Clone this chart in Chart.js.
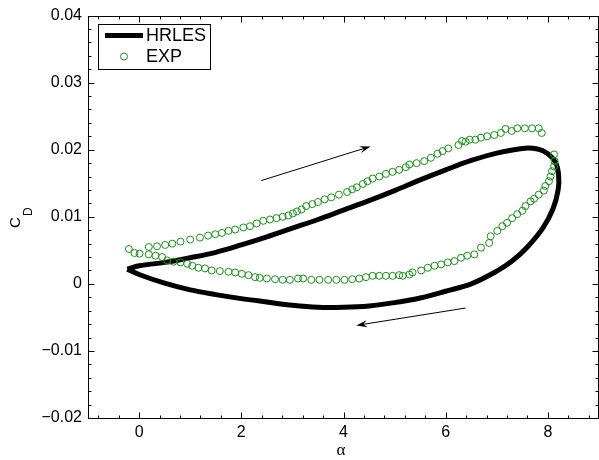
<!DOCTYPE html>
<html>
<head>
<meta charset="utf-8">
<script src="https://cdn.jsdelivr.net/npm/chart.js@4.4.1/dist/chart.umd.min.js"></script>
<style>
    html, body { margin:0; padding:0; background:#fff; overflow:hidden; }
</style>
</head>
<body>
<canvas id="chartCd" width="599" height="460"></canvas>
<script>
/**
 * CD - alpha hysteresis
 */
// axis
let xTicks = [0, 2, 4, 6, 8];
let yTicks = [-0.02, -0.01, 0, 0.01, 0.02, 0.03, 0.04];
let xMinorStep = 0.4;
let yMinorStep = 0.002;

// HRLES (closed loop)
let hrlesA  = [-0.23, 0, 0.5, 1, 1.5, 2, 2.5, 3, 3.5, 4, 4.5, 5, 5.5, 6, 6.5, 7, 7.5,
               7.8, 8.0, 8.15, 8.21, 8.2, 8.1, 7.9, 7.6, 7.3, 7.0, 6.5, 6.0, 5.5, 5.0,
               4.5, 4.0, 3.5, 3.0, 2.5, 2.0, 1.5, 1.0, 0.5, 0, -0.23];
let hrlesCd = [0.0022, 0.0027, 0.0032, 0.0039, 0.0047, 0.0058, 0.0070, 0.0083, 0.0096, 0.0110,
               0.0124, 0.0139, 0.0155, 0.0170, 0.0184, 0.0195, 0.0202,
               0.0201, 0.0194, 0.0181, 0.0162, 0.0140, 0.0112, 0.0083, 0.0055, 0.0034, 0.0019,
               0.0000, -0.0011, -0.0021, -0.0028, -0.0033, -0.0035, -0.0035, -0.0032, -0.0027, -0.0022,
               -0.0016, -0.0009, 0.0001, 0.0014, 0.0022];

// EXP upstroke
let expUpA  = [-0.20, 0.19, 0.35, 0.51, 0.65, 0.81, 1.00, 1.19, 1.35, 1.49, 1.62, 1.75, 1.88, 2.04,
               2.17, 2.30, 2.43, 2.56, 2.69, 2.81, 2.92, 3.01, 3.09, 3.18, 3.27, 3.39, 3.50, 3.63,
               3.76, 3.91, 4.07, 4.17, 4.26, 4.38, 4.47, 4.57, 4.70, 4.83, 4.96, 5.09, 5.22, 5.29,
               5.43, 5.58, 5.71, 5.84, 5.94, 6.05, 6.25, 6.32, 6.39, 6.47, 6.58, 6.69, 6.81, 6.95,
               7.08, 7.17, 7.29, 7.40, 7.55, 7.69, 7.82, 7.88];
let expUpCd = [0.0052, 0.0055, 0.0056, 0.0058, 0.0060, 0.0063, 0.0066, 0.0069, 0.0072, 0.0074, 0.0076, 0.0079, 0.0081, 0.0084,
               0.0086, 0.0090, 0.0094, 0.0096, 0.0098, 0.0100, 0.0102, 0.0105, 0.0108, 0.0111, 0.0116, 0.0119, 0.0122, 0.0126,
               0.0129, 0.0133, 0.0137, 0.0141, 0.0144, 0.0149, 0.0153, 0.0157, 0.0160, 0.0164, 0.0167, 0.0170, 0.0174, 0.0178,
               0.0180, 0.0183, 0.0188, 0.0194, 0.0198, 0.0202, 0.0207, 0.0213, 0.0212, 0.0215, 0.0215, 0.0218, 0.0220, 0.0222,
               0.0225, 0.0231, 0.0228, 0.0232, 0.0232, 0.0232, 0.0232, 0.0225];

// EXP downstroke
let expDnA  = [8.12, 8.13, 8.12, 8.08, 8.05, 8.02, 7.95, 7.92, 7.82, 7.73, 7.66, 7.56, 7.50, 7.40, 7.30,
               7.20, 7.11, 7.01, 6.88, 6.85, 6.69, 6.56, 6.42, 6.30, 6.17, 6.04, 5.91, 5.78, 5.65, 5.52,
               5.35, 5.29, 5.16, 5.09, 4.96, 4.83, 4.70, 4.57, 4.44, 4.31, 4.17, 4.02, 3.86, 3.70, 3.53,
               3.37, 3.21, 3.11, 2.95, 2.81, 2.66, 2.50, 2.36, 2.27, 2.14, 2.01, 1.88, 1.75, 1.58, 1.42,
               1.29, 1.16, 1.04, 0.94, 0.81, 0.67, 0.55, 0.45, 0.32, 0.19, 0.01, -0.09];
let expDnCd = [0.0193, 0.0183, 0.0175, 0.0168, 0.0160, 0.0153, 0.0146, 0.0139, 0.0133, 0.0127, 0.0123, 0.0116, 0.0109, 0.0104, 0.0098,
               0.0091, 0.0086, 0.0079, 0.0071, 0.0061, 0.0054, 0.0044, 0.0042, 0.0039, 0.0034, 0.0032, 0.0029, 0.0027, 0.0024, 0.0020,
               0.0017, 0.0014, 0.0012, 0.0013, 0.0012, 0.0012, 0.0012, 0.0012, 0.0010, 0.0008, 0.0007, 0.0006, 0.0006, 0.0006, 0.0006,
               0.0006, 0.0008, 0.0008, 0.0006, 0.0006, 0.0007, 0.0008, 0.0009, 0.0010, 0.0013, 0.0015, 0.0017, 0.0018, 0.0019, 0.0020,
               0.0023, 0.0024, 0.0027, 0.0030, 0.0032, 0.0033, 0.0035, 0.0040, 0.0042, 0.0044, 0.0045, 0.0046];

// direction arrows (data coords)
let arrowUp   = [[2.39, 0.0154], [4.53, 0.0205]];
let arrowDown = [[6.39, -0.0036], [4.25, -0.0062]];

let expColor = "rgb(30,140,30)";
let fontFam  = "'Liberation Sans', Arial, sans-serif";

function toXY(aArr, cArr){
    let out = [];
    for(let i=0; i<aArr.length; i++){
        out.push({x: aArr[i], y: cArr[i]});
    }
    return out;
};

function minusFmt(v){
    // 마이너스 기호
    let s = String(Math.round(v*1000)/1000);
    return s.replace("-", "\u2212");
};

function drawArrow(ctx, x1, y1, x2, y2){
    let ang = Math.atan2(y2-y1, x2-x1);
    let len = 11, wid = 3.5;
    ctx.beginPath();
    ctx.moveTo(x1, y1);
    ctx.lineTo(x2 - Math.cos(ang)*6, y2 - Math.sin(ang)*6);
    ctx.stroke();
    ctx.beginPath();
    ctx.moveTo(x2, y2);
    ctx.lineTo(x2 - Math.cos(ang)*len + Math.sin(ang)*wid, y2 - Math.sin(ang)*len - Math.cos(ang)*wid);
    ctx.lineTo(x2 - Math.cos(ang)*7, y2 - Math.sin(ang)*7);
    ctx.lineTo(x2 - Math.cos(ang)*len - Math.sin(ang)*wid, y2 - Math.sin(ang)*len + Math.cos(ang)*wid);
    ctx.closePath();
    ctx.fill();
};

// frame, inward ticks, arrows, legend, axis titles
const framePlugin = {
    id : "framePlugin",
    afterDraw(chart){
        let ctx = chart.ctx;
        let ca  = chart.chartArea;
        let xs  = chart.scales.x;
        let ys  = chart.scales.y;

        ctx.save();
        ctx.strokeStyle = "#000";
        ctx.fillStyle = "#000";
        ctx.lineWidth = 1;

        // frame
        let L = Math.round(ca.left)+0.5, R = Math.round(ca.right)-0.5;
        let T = Math.round(ca.top)+0.5,  B = Math.round(ca.bottom)+0.5;
        ctx.strokeRect(L, T, R-L, B-T);

        // x ticks (bottom + top)
        ctx.beginPath();
        for(let k=-5; k<=25; k++){
            let v = Math.round(k*xMinorStep*100)/100;
            if(v <= xs.min || v >= xs.max) continue;
            let major = xTicks.indexOf(v) >= 0;
            let tl = major ? 6 : 3;
            let px = Math.round(xs.getPixelForValue(v))+0.5;
            ctx.moveTo(px, B); ctx.lineTo(px, B-tl);
            ctx.moveTo(px, T); ctx.lineTo(px, T+tl);
        }
        // y ticks (left + right)
        for(let k=-10; k<=20; k++){
            let v = Math.round(k*yMinorStep*10000)/10000;
            if(v <= ys.min || v >= ys.max) continue;
            let major = Math.abs(Math.round(v*100) - v*100) < 1e-6;
            let tl = major ? 6 : 3;
            let py = Math.round(ys.getPixelForValue(v))+0.5;
            ctx.moveTo(L, py); ctx.lineTo(L+tl, py);
            ctx.moveTo(R, py); ctx.lineTo(R-tl, py);
        }
        ctx.stroke();

        // arrows
        ctx.lineWidth = 1;
        drawArrow(ctx, xs.getPixelForValue(arrowUp[0][0]), ys.getPixelForValue(arrowUp[0][1]),
                       xs.getPixelForValue(arrowUp[1][0]), ys.getPixelForValue(arrowUp[1][1]));
        drawArrow(ctx, xs.getPixelForValue(arrowDown[0][0]), ys.getPixelForValue(arrowDown[0][1]),
                       xs.getPixelForValue(arrowDown[1][0]), ys.getPixelForValue(arrowDown[1][1]));

        // legend
        let lx = Math.round(ca.left) + 10, ly = Math.round(ca.top) + 8;
        ctx.strokeRect(lx+0.5, ly+0.5, 112, 45);
        ctx.lineWidth = 5;
        ctx.beginPath();
        ctx.moveTo(lx+7, ly+11.5); ctx.lineTo(lx+45, ly+11.5);
        ctx.stroke();
        ctx.lineWidth = 1;
        ctx.strokeStyle = expColor;
        ctx.beginPath();
        ctx.arc(lx+26, ly+32.5, 3.5, 0, Math.PI*2);
        ctx.stroke();
        ctx.font = "18px " + fontFam;
        ctx.textBaseline = "middle";
        ctx.textAlign = "left";
        ctx.fillText("HRLES", lx+48, ly+12);
        ctx.fillText("EXP", lx+48, ly+33);

        // axis titles
        ctx.textAlign = "center";
        ctx.font = "17px 'Liberation Serif', 'DejaVu Serif', serif";
        ctx.fillText("\u03b1", 341, 451);
        ctx.save();
        ctx.translate(20, 228);
        ctx.rotate(-Math.PI/2);
        ctx.textAlign = "left";
        ctx.textBaseline = "alphabetic";
        ctx.font = "15px " + fontFam;
        ctx.fillText("C", 0, 0);
        ctx.font = "12px " + fontFam;
        ctx.fillText("D", 12, 12);
        ctx.restore();

        ctx.restore();
    }
};

function setChart(){
    var chartArea = document.getElementById("chartCd").getContext("2d");

    let chartCd = new Chart(chartArea, {
        type : "scatter",
        data : {
            datasets : [
                {
                    label : "EXP",
                    data  : toXY(expUpA, expUpCd).concat(toXY(expDnA, expDnCd)),
                    pointStyle : "circle",
                    pointRadius : 3.5,
                    borderWidth : 1,
                    borderColor : expColor,
                    backgroundColor : "rgba(0,0,0,0)",
                    showLine : false,
                    order : 0
                },
                {
                    label : "HRLES",
                    data  : toXY(hrlesA, hrlesCd),
                    showLine : true,
                    pointRadius : 0,
                    borderColor : "#000",
                    borderWidth : 5,
                    tension : 0.35,
                    borderJoinStyle : "round",
                    fill : false,
                    order : 1
                }
            ]
        },
        options : {
            responsive : false,
            animation : false,
            devicePixelRatio : 1,
            layout : { autoPadding : false, padding : { left:0, top:14, right:0, bottom:0 } },
            plugins : {
                legend : { display:false },
                tooltip : { enabled:false }
            },
            scales : {
                x : {
                    type : "linear",
                    min : -1, max : 9,
                    afterBuildTicks : function(scale){
                        scale.ticks = xTicks.map(v => ({value:v}));
                    },
                    afterFit : function(scale){
                        scale.height = 42;
                        scale.paddingLeft = 0;
                        scale.paddingRight = 0;
                    },
                    grid : { display:false, drawTicks:false },
                    border : { display:false },
                    ticks : {
                        padding : 5,
                        color : "#000",
                        font : { family:fontFam, size:16 },
                        maxRotation : 0,
                        callback : function(v){ return minusFmt(v); }
                    }
                },
                y : {
                    type : "linear",
                    min : -0.02, max : 0.04,
                    afterBuildTicks : function(scale){
                        scale.ticks = yTicks.map(v => ({value:v}));
                    },
                    afterFit : function(scale){
                        scale.width = 88;
                    },
                    grid : { display:false, drawTicks:false },
                    border : { display:false },
                    ticks : {
                        padding : 6,
                        color : "#000",
                        font : { family:fontFam, size:16 },
                        callback : function(v){ return minusFmt(v); }
                    }
                }
            }
        },
        plugins : [framePlugin]
    });
};

setChart();
</script>
</body>
</html>
